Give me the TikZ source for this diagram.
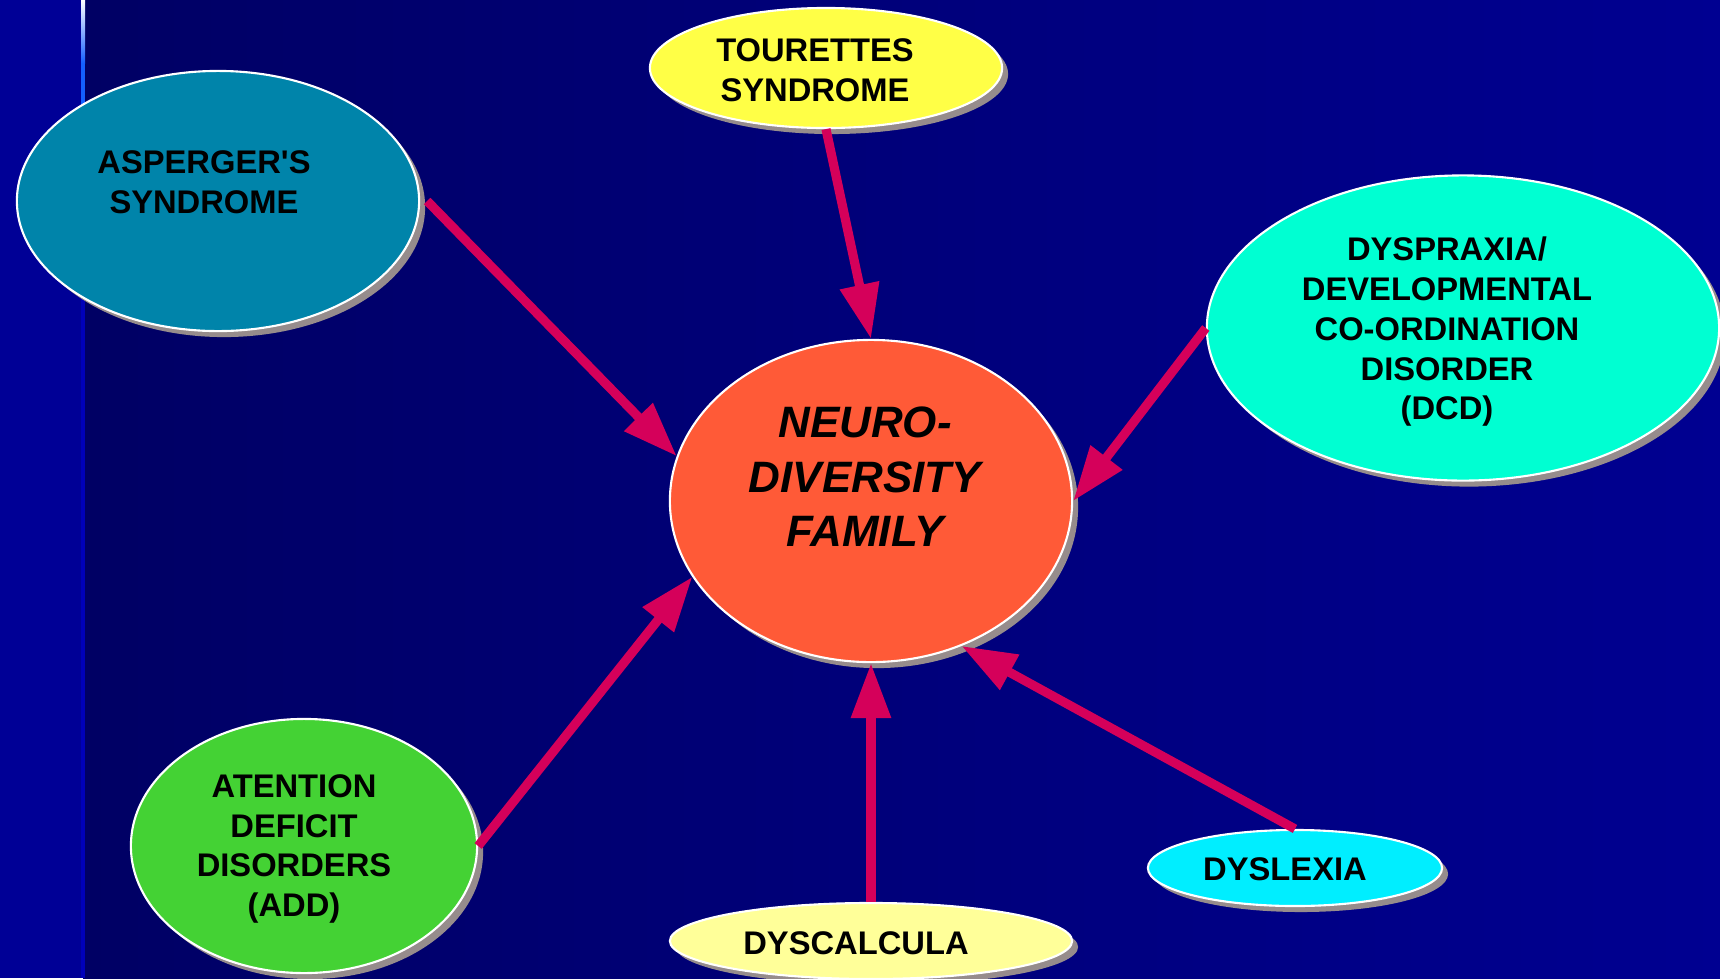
\documentclass[tikz,border=0pt]{standalone}
\usepackage{fontspec}
\setmainfont{Liberation Sans}
\usetikzlibrary{arrows.meta,shapes.geometric,shadows}
\definecolor{stripblue}{RGB}{0,0,150}
\definecolor{navyleft}{RGB}{0,0,100}
\definecolor{navyright}{RGB}{0,0,145}
\definecolor{edgeblue}{RGB}{20,95,255}
\definecolor{edgedim}{RGB}{0,0,185}
\definecolor{shadowgray}{RGB}{150,140,140}
\definecolor{linkred}{RGB}{213,0,90}
\definecolor{aspblue}{RGB}{0,132,170}
\definecolor{touryellow}{RGB}{255,255,70}
\definecolor{neuroorange}{RGB}{255,90,55}
\definecolor{dcdaqua}{RGB}{0,255,210}
\definecolor{addgreen}{RGB}{68,210,52}
\definecolor{dyscpale}{RGB}{255,255,153}
\definecolor{dyslcyan}{RGB}{0,238,255}

\begin{document}
\begin{tikzpicture}[
    x=0.01cm, y=-0.01cm,
    bubble/.style={ellipse, draw=white, line width=0.6pt, inner sep=0pt,
        drop shadow={shadow xshift=0.06cm, shadow yshift=-0.06cm, fill=shadowgray, opacity=1}},
    lbl/.style={align=center, inner sep=0pt, font=\fontsize{9.3}{11.3}\selectfont\bfseries},
    link/.style={draw=linkred, line width=2.6pt, -{Triangle[length=15.6pt, width=10.8pt]}}
]
    % background
    \clip (0,0) rectangle (1720,978);
    \fill[stripblue] (0,0) rectangle (83,978);
    \shade[left color=navyleft, right color=navyright] (83,0) rectangle (1720,978);
    \shade[top color=white, bottom color=edgeblue] (81,0) rectangle (85,63);
    \fill[edgeblue] (81,63) rectangle (85,110);
    \fill[edgedim] (81,110) rectangle (85,978);

    % family members
    \node[bubble, fill=aspblue, minimum width=4.02cm, minimum height=2.6cm] (asp) at (218,201) {};
    \node[lbl] (asptxt) at (204,182) {ASPERGER\textquotesingle S\\SYNDROME};

    \node[bubble, fill=touryellow, minimum width=3.52cm, minimum height=1.2cm] (tour) at (826,68) {};
    \node[lbl] (tourtxt) at (815,70) {TOURETTES\\SYNDROME};

    \node[bubble, fill=neuroorange, minimum width=4.02cm, minimum height=3.22cm] (neuro) at (871,501) {};
    \node[lbl, font=\fontsize{12.5}{15.5}\selectfont\bfseries\itshape] (neurotxt) at (865,477) {NEURO-\\DIVERSITY\\FAMILY};

    \node[bubble, fill=dcdaqua, minimum width=5.12cm, minimum height=3.05cm] (dcd) at (1463,328) {};
    \node[lbl] (dcdtxt) at (1447,332) {DYSPRAXIA/\\DEVELOPMENTAL\\CO-ORDINATION\\DISORDER\\(DCD)};

    \node[bubble, fill=addgreen, minimum width=3.46cm, minimum height=2.54cm] (add) at (304,846) {};
    \node[lbl] (addtxt) at (294,849) {ATENTION\\DEFICIT\\DISORDERS\\(ADD)};

    \node[bubble, fill=dyscpale, minimum width=4.02cm, minimum height=0.76cm] (dysc) at (871,941) {};
    \node[lbl] (dysctxt) at (856,943) {DYSCALCULA};

    \node[bubble, fill=dyslcyan, minimum width=2.94cm, minimum height=0.76cm] (dysl) at (1295,868) {};
    \node[lbl] (dysltxt) at (1285,869) {DYSLEXIA};

    % arrows into the family
    \draw[link] ([xshift=0.07cm]asp.east) -- (neuro.167);
    \draw[link] (tour.south) -- (neuro.north);
    \draw[link] (dcd.west) -- (neuro.east);
    \draw[link] (add.east) -- (neuro.203);
    \draw[link] (dysc.north) -- (neuro.south);
    \draw[link] (dysl.north) -- (neuro.-58);
\end{tikzpicture}
\end{document}
